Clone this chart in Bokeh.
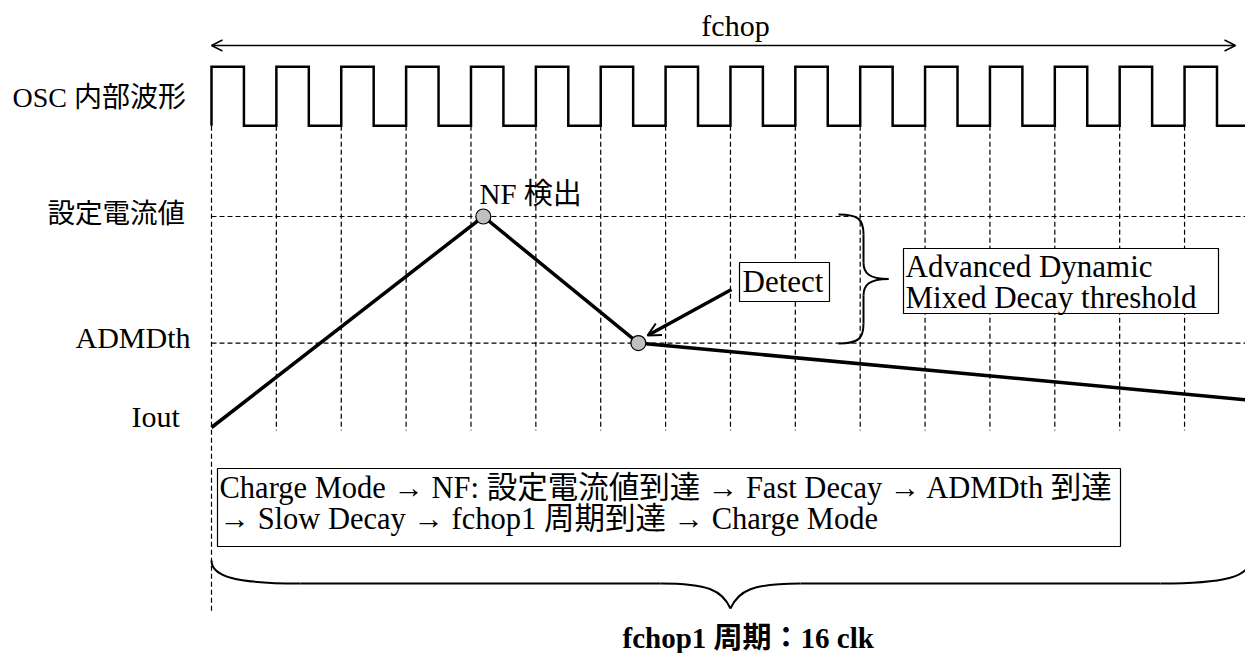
from bokeh.plotting import figure
from bokeh.models import Range1d, Arrow, OpenHead
from bokeh.core.properties import value
from bokeh.embed import file_html
from bokeh.resources import INLINE

# ---------------- data ----------------
n_clk = 16                     # fchop1 period: 16 clk
clk_rise = list(range(n_clk))  # rising edges (clk)
duty = 0.5
clk_low, clk_high = 1.43, 1.71  # drawing levels of OSC waveform

I_out = 0.0
I_set = 1.0          # 設定電流値
I_admd = 0.40        # ADMDth
cur_t = [0.0, 4.19, 6.58, 16.0]     # Charge -> NF -> Fast decay -> Slow decay
cur_i = [0.0, 1.0, 0.40, 0.13]

row_labels = ["OSC 内部波形", "設定電流値", "ADMDth", "Iout"]
flow_line1 = "Charge Mode → NF: 設定電流値到達 → Fast Decay → ADMDth 到達"
flow_line2 = "→ Slow Decay → fchop1 周期到達 → Charge Mode"
period_label = "fchop1 周期：16 clk"

# ---------------- layout helpers (reference pixel -> data) ----------------
PX_T0, PX_PER_CLK = 211.0, 64.87
PX_I0, PX_PER_I = 427.0, 211.0
def X(px): return (px - PX_T0) / PX_PER_CLK
def Y(py): return (PX_I0 - py) / PX_PER_I

W, H = 1245, 653
FONT = value("Liberation Serif, 'Noto Sans CJK JP', serif")

p = figure(width=W, height=H, output_backend="svg", toolbar_location=None,
           x_range=Range1d(X(0), X(W)), y_range=Range1d(Y(H), Y(0)),
           x_axis_type=None, y_axis_type=None, min_border=0)
p.grid.visible = False
p.outline_line_color = None
p.background_fill_color = "white"


def label(x, y, txt, size, **kw):
    p.text(x, y, text=txt, text_align=kw.pop("align", "left"), text_baseline="middle",
           text_font=FONT, text_font_size=size, text_color="black", **kw)


# ---- OSC waveform ----
wx, wy = [0.0], [clk_low]
for t in clk_rise:
    wx += [t, t + duty, t + duty, t + 1]
    wy += [clk_high, clk_high, clk_low, clk_low]
p.line(wx, wy, line_color="black", line_width=2.5, line_join="miter")

# ---- dashed grid ----
dash = "5 3"
for t in clk_rise:
    y_bot = Y(613) if t == 0 else Y(430)
    p.segment(t, clk_low, t, y_bot, line_color="black", line_width=1.2, line_dash=dash)
for lvl in (I_set, I_admd):
    p.segment(0, lvl, n_clk, lvl, line_color="black", line_width=1.2, line_dash=dash)

# ---- current waveform ----
p.line(cur_t, cur_i, line_color="black", line_width=3.5, line_join="miter")
p.scatter([cur_t[1], cur_t[2]], [cur_i[1], cur_i[2]], marker="circle", size=15,
          fill_color="#c0c0c0", line_color="black", line_width=1.2)

# ---- fchop arrow ----
p.add_layout(Arrow(start=OpenHead(size=11, line_width=1.5), end=OpenHead(size=11, line_width=1.5),
                   x_start=0, y_start=Y(45), x_end=X(1235), y_end=Y(45),
                   line_width=1.5, line_color="black"))
label([X(735)], [Y(25)], ["fchop"], "30px", align="center")

# ---- row labels ----
label([X(12)], [Y(97)], [row_labels[0]], "28px")
label([X(47)], [Y(213)], [row_labels[1]], "27.5px")
label([X(75)], [Y(337)], [row_labels[2]], "30px")
label([X(131)], [Y(416)], [row_labels[3]], "30px")

# ---- NF label ----
label([X(479)], [Y(193)], ["NF 検出"], "29px")

# ---- Detect box + arrow ----
p.quad(left=X(739), right=X(829), top=Y(262), bottom=Y(301), fill_color="white",
       line_color="black", line_width=1.2)
label([X(742)], [Y(281)], ["Detect"], "31px")
p.add_layout(Arrow(end=OpenHead(size=13, line_width=2), x_start=X(731), y_start=Y(289),
                   x_end=X(647), y_end=Y(335), line_width=3.5, line_color="black"))

# ---- right brace ----
bx0, bxs, bxt = X(838), X(863), X(888)
ytop, ybot, ymid = Y(214), Y(343), Y(278.5)
p.bezier(x0=[bx0, bxs, bxs, bx0], y0=[ytop, Y(262), Y(295), ybot],
         x1=[bxs, bxt, bxt, bxs], y1=[Y(234), ymid, ymid, Y(323)],
         cx0=[X(858), bxs, bxs, X(858)], cy0=[ytop, Y(272), Y(285), ybot],
         cx1=[bxs, X(868), X(868), bxs], cy1=[Y(219), ymid, ymid, Y(338)],
         line_color="black", line_width=2)
p.segment([bxs, bxs], [Y(234), Y(295)], [bxs, bxs], [Y(262), Y(323)],
          line_color="black", line_width=2)

# ---- Advanced box ----
p.quad(left=X(903), right=X(1218), top=Y(248), bottom=Y(313), fill_color="white",
       line_color="black", line_width=1.2)
label([X(905), X(905)], [Y(266), Y(297)], ["Advanced Dynamic", "Mixed Decay threshold"], "31px")

# ---- flow box ----
p.quad(left=X(217), right=X(1120), top=Y(468), bottom=Y(546), fill_color="white",
       line_color="black", line_width=1.2)
label([X(219), X(219)], [Y(487), Y(518)], [flow_line1, flow_line2], "30.5px")

# ---- bottom brace ----
xl, xc, xr = 0.0, n_clk / 2, float(n_clk)
yh, yend, ytip = Y(583), Y(560), Y(608)
dx8 = 8 / PX_PER_CLK
p.bezier(x0=[xl, X(660), xc, X(1160)], y0=[yend, yh, ytip, yh],
         x1=[X(300), xc, X(800), xr], y1=[yh, ytip, yh, yend],
         cx0=[xl, X(708), xc + dx8, X(1225)], cy0=[Y(576), yh, Y(590), yh],
         cx1=[X(235), xc - dx8, X(752), xr], cy1=[yh, Y(590), yh, Y(576)],
         line_color="black", line_width=2)
p.segment([X(300), X(800)], [yh, yh], [X(660), X(1160)], [yh, yh], line_color="black", line_width=2)

label([X(622)], [Y(637)], [period_label], "29px", text_font_style="bold")

open("out.html", "w").write(file_html(p, INLINE))
